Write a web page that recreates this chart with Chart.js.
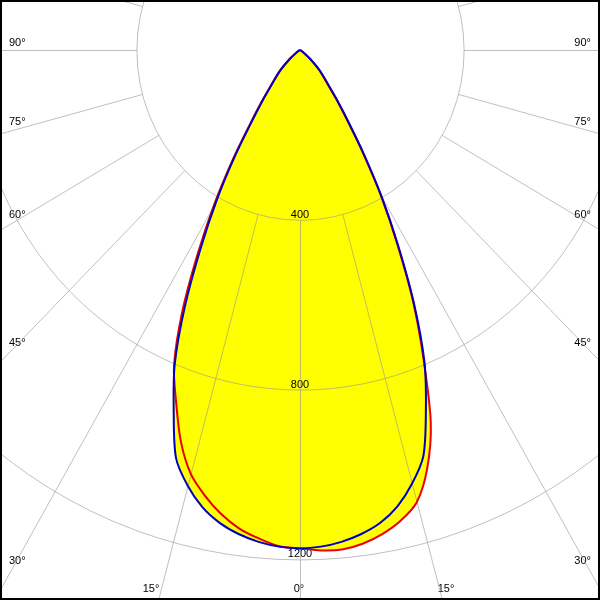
<!DOCTYPE html>
<html lang="en">
<head>
  <meta charset="UTF-8">
  <title>Polar luminous intensity diagram</title>
  <script src="https://cdn.jsdelivr.net/npm/chart.js"></script>
  <style>
    body { margin: 0; background: #fff; }
    #wrap { width: 600px; height: 600px; }
  </style>
</head>
<body>
  <div id="wrap"><canvas id="ldc" width="600" height="600"></canvas></div>

  <script>
    // gamma angles (deg) and intensities (cd)
    const gammaAngles = [0, 2.5, 5, 7.5, 10, 12.5, 15, 17.5, 20, 22.5, 25, 27.5, 30, 32.5, 35, 37.5, 40, 45, 50, 55, 60, 65, 70, 75, 80, 85, 90];
    // C0 - C180 plane (blue)
    const c0   = [1174, 1171, 1163, 1150, 1131, 1101, 1058, 1003, 900, 795, 660, 520, 400, 290, 205, 150, 110, 68, 32, 12, 3, 0, 0, 0, 0, 0, 0];
    const c180 = [1174, 1171, 1163, 1150, 1131, 1103, 1062, 1008, 903, 800, 665, 525, 405, 295, 205, 150, 110, 68, 32, 12, 3, 0, 0, 0, 0, 0, 0];
    // C90 - C270 plane (red)
    const c90  = [1174, 1180, 1181, 1173, 1158, 1136, 1103, 1034, 935, 790, 655, 515, 395, 285, 200, 145, 105, 65, 30, 11, 3, 0, 0, 0, 0, 0, 0];
    const c270 = [1174, 1170, 1155, 1137, 1110, 1075, 1033, 968, 885, 805, 682, 542, 418, 305, 213, 156, 115, 71, 34, 13, 3, 0, 0, 0, 0, 0, 0];

    // grid
    const ringValues = [400, 800, 1200];
    const spokeAngles = [0, 15, 30, 45, 60, 75, 90, 105, 120, 135, 150, 165, 180, 195, 210, 225, 240, 255, 270, 285, 300, 315, 330, 345];
    const angleLabels = ['90°', '75°', '60°', '45°', '30°', '15°', '0°', '15°', '30°', '45°', '60°', '75°', '90°'];

    // left half runs from 90 down to 0, right half from 0 up to 90
    function planePoints(leftI, rightI) {
      const pts = [];
      for (let i = gammaAngles.length - 1; i >= 0; i--) {
        const g = gammaAngles[i] * Math.PI / 180;
        pts.push({ x: -leftI[i] * Math.sin(g), y: -leftI[i] * Math.cos(g) });
      }
      for (let i = 1; i < gammaAngles.length; i++) {
        const g = gammaAngles[i] * Math.PI / 180;
        pts.push({ x: rightI[i] * Math.sin(g), y: -rightI[i] * Math.cos(g) });
      }
      return pts;
    }

    // where the angle labels sit (pixels)
    const labelSpots = [
      [9, 43, 'left'], [9, 122, 'left'], [9, 215, 'left'], [9, 343, 'left'], [9, 561, 'left'],
      [151, 589, 'center'], [299, 589, 'center'], [446, 589, 'center'],
      [591, 561, 'right'], [591, 343, 'right'], [591, 215, 'right'], [591, 122, 'right'], [591, 43, 'right']
    ];

    const polarGrid = {
      id: 'polarGrid',
      beforeDatasetsDraw(chart) {
        const { ctx, scales: { x, y } } = chart;
        const cx = x.getPixelForValue(0), cy = y.getPixelForValue(0);
        ctx.save();
        ctx.font = "11px 'Liberation Sans', Arial, sans-serif";
        ctx.fillStyle = '#000';
        ctx.textBaseline = 'middle';
        // cd values along 0 deg
        ctx.textAlign = 'center';
        ringValues.forEach(r => ctx.fillText(String(r), cx, y.getPixelForValue(-r) - 5));
        // angle labels
        angleLabels.forEach((t, i) => {
          const [lx, ly, al] = labelSpots[i];
          ctx.textAlign = al;
          ctx.fillText(t, lx, ly);
        });

        ctx.translate(0.5, 0.5);
        ctx.strokeStyle = 'rgba(150,150,150,0.6)';
        ctx.lineWidth = 1;
        ringValues.forEach(r => {
          ctx.beginPath();
          ctx.ellipse(cx, cy, x.getPixelForValue(r) - cx, y.getPixelForValue(-r) - cy, 0, 0, 2 * Math.PI);
          ctx.stroke();
        });
        const r0 = ringValues[0], r1 = 2000;
        spokeAngles.forEach(a => {
          const t = a * Math.PI / 180;
          ctx.beginPath();
          ctx.moveTo(x.getPixelForValue(r0 * Math.sin(t)), y.getPixelForValue(-r0 * Math.cos(t)));
          ctx.lineTo(x.getPixelForValue(r1 * Math.sin(t)), y.getPixelForValue(-r1 * Math.cos(t)));
          ctx.stroke();
        });
        ctx.restore();
      },
      afterDraw(chart) {
        const ctx = chart.ctx;
        ctx.save();
        ctx.strokeStyle = '#000';
        ctx.lineWidth = 2;
        ctx.strokeRect(1, 1, 598, 598);
        ctx.restore();
      }
    };

    new Chart(document.getElementById('ldc'), {
      type: 'scatter',
      data: {
        datasets: [
          {
            label: 'C0 - C180',
            data: planePoints(c180, c0),
            showLine: true,
            borderColor: '#0000c0',
            backgroundColor: '#ffff00',
            borderWidth: 2,
            pointRadius: 0,
            tension: 0.3,
            fill: 'shape'
          },
          {
            label: 'C90 - C270',
            data: planePoints(c270, c90),
            showLine: true,
            borderColor: '#e80000',
            backgroundColor: '#ffff00',
            borderWidth: 2,
            pointRadius: 0,
            tension: 0.3,
            fill: 'shape'
          }
        ]
      },
      options: {
        responsive: false,
        animation: false,
        events: [],
        devicePixelRatio: 1,
        layout: { padding: 0 },
        scales: {
          x: { type: 'linear', min: -733.5, max: 733.5, display: false },
          y: { type: 'linear', min: -1295.6, max: 117.8, display: false }
        },
        plugins: {
          legend: { display: false },
          tooltip: { enabled: false },
          filler: { drawTime: 'beforeDatasetsDraw' }
        }
      },
      plugins: [polarGrid]
    });
  </script>
</body>
</html>
